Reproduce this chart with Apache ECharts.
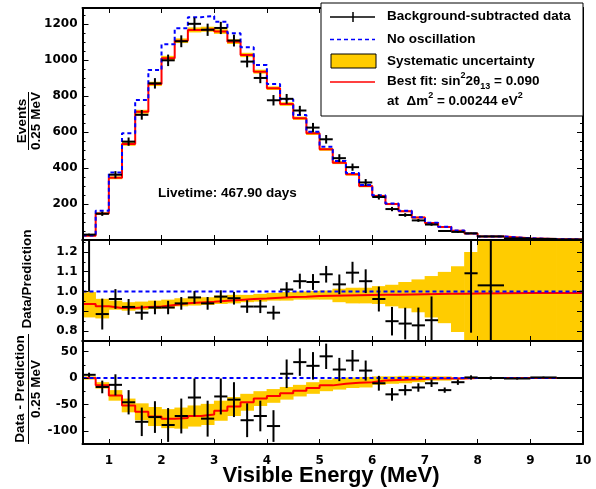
<!DOCTYPE html>
<html><head><meta charset="utf-8">
<script src="https://cdn.jsdelivr.net/npm/echarts@6/dist/echarts.min.js"></script>
<style>html,body{margin:0;padding:0;background:#fff}#c{width:596px;height:489px}</style>
</head><body><div id="c"></div>
<script>
// ---------- DATA ----------
const binEdges = [0.5,0.75,1,1.25,1.5,1.75,2,2.25,2.5,2.75,3,3.25,3.5,3.75,4,4.25,4.5,4.75,5,5.25,5.5,5.75,6,6.25,6.5,6.75,7,7.25,7.5,7.75,8,8.5,9,9.5,10];
// top panel: events / 0.25 MeV
const noOsc   = [25,163,376,593,779,945,1088,1177,1239,1246,1214,1150,1072,973,868,783,695,602,519,439,372,306,249,203,162,127,96,73,53,36,20,10,5,3];
const bestFit = [23,148,346,534,713,868,1011,1108,1168,1172,1159,1103,1029,936,844,756,677,593,504,430,365,300,245,200,160,125,95,72,52,36,20,10,5,3];
const topBandHalf = [2,5,8,10,11,12,13,13,14,14,13,13,12,11,10,10,9,9,8,8,7,7,6,6,5,5,4,4,3,3,2,2,1,1];
const dataEvents = [30,146,363,547,696,871,999,1105,1202,1169,1179,1109,992,901,777,785,720,625,560,455,405,320,239,172,139,109,86,50,45,37,20,9,6,3];
const dataEventsErr = [5,12,20,23,27,29,32,33,35,34,34,33,32,29,29,27,26,26,24,22,20,19,14,12,10,8,7,5,5,4,3,2,1.5,1];
// ratio panel
const ratioNoOsc = 1.0;
const ratioFit = [0.937,0.925,0.917,0.917,0.922,0.924,0.932,0.94,0.944,0.948,0.953,0.957,0.962,0.965,0.969,0.972,0.974,0.977,0.979,0.98,0.981,0.982,0.983,0.984,0.985,0.986,0.987,0.988,0.989,0.99,0.991,0.992,0.993,0.993];
const ratioBandLo = [0.869,0.864,0.908,0.903,0.908,0.912,0.915,0.925,0.929,0.932,0.937,0.94,0.946,0.949,0.954,0.954,0.959,0.959,0.959,0.946,0.94,0.94,0.937,0.925,0.915,0.895,0.869,0.84,0.796,0.7,0.5,0.5,0.5,0.5];
const ratioBandHi = [0.997,0.963,0.954,0.946,0.949,0.954,0.959,0.966,0.971,0.971,0.98,0.983,0.983,0.988,0.993,0.997,1.0,1.003,1.005,1.014,1.019,1.019,1.027,1.034,1.048,1.061,1.078,1.099,1.128,1.2,1.5,1.5,1.5,1.5];
const ratioData = [1.35,0.886,0.962,0.922,0.893,0.919,0.919,0.94,0.97,0.94,0.974,0.966,0.924,0.924,0.893,1.01,1.052,1.048,1.087,1.036,1.095,1.052,0.962,0.85,0.838,0.829,0.855,null,null,1.092,1.031,null,null,null];
const ratioErr  = [0.35,0.078,0.05,0.04,0.036,0.034,0.034,0.032,0.032,0.032,0.032,0.032,0.032,0.033,0.035,0.037,0.038,0.04,0.042,0.05,0.055,0.06,0.063,0.072,0.08,0.09,0.12,null,null,0.3,0.6,null,null,null];
// difference panel
const diffNoOsc = 0;
const diffFit = [0,-14,-33,-52,-64,-73,-77,-76,-72,-69,-62,-54,-46,-39,-34,-29,-24,-19,-14,-11,-9,-8,-5,-4,-3,-2,-1,-1,-1,0,0,0,0,0];
const diffBandHalf = [3,6,10,13,16,18,18,20,20,20,19,18,16,14,13,12,11,11,11,11,10,10,8,7,7,6,4,4,2,2,1,1,1,1];
const diffData = [6,-17,-13,-46,-83,-74,-89,-72,-37,-77,-35,-41,-80,-72,-91,8,30,23,41,16,33,14,-10,-31,-23,-18,-10,-23,-8,1,0,-1,1,0];
const diffErr  = [4,12,20,23,27,30,32,33,36,34,34,33,32,29,30,27,26,26,24,22,20,19,14,12,10,8,7,5,5,4,3,2,1.5,1];
// ticks
const xTicks = [1,2,3,4,5,6,7,8,9,10];
const topMajor = [0,200,400,600,800,1000,1200];
const topLabels = [200,400,600,800,1000,1200];
const topMinor = [50,100,150,250,300,350,450,500,550,650,700,750,850,900,950,1050,1100,1150,1250];
const ratioMajor = [0.8,0.9,1.0,1.1,1.2];
const ratioMinor = [0.75,0.85,0.95,1.05,1.15,1.25];
const diffMajor = [-100,-50,0,50];
const diffMinor = [-125,-75,-25,25];

// ---------- CHART ----------
const chart = echarts.init(document.getElementById('c'));
const L = 82.5, W = 500.5;
const TICKFONT = {color:'#000', fontFamily:'DejaVu Sans', fontWeight:'bold', fontSize:12};
const TXT = "'Liberation Sans', Arial, sans-serif";

function xAxes(gi, showLabels){
  const base = {type:'value', gridIndex:gi, min:0.5, max:10, z:10, splitLine:{show:false},
    axisLine:{show:true, onZero:false, lineStyle:{color:'#000', width:2}},
    axisTick:{show:true, inside:true, length:5, customValues:xTicks, lineStyle:{color:'#000', width:1}}};
  return [
    Object.assign({}, base, {position:'bottom', axisLabel:Object.assign({show:showLabels, customValues:xTicks, margin:11}, TICKFONT)}),
    Object.assign({}, base, {position:'top', axisLabel:{show:false}})
  ];
}
function yAxes(gi, min, max, major, labels, minor, fmt){
  const base = {type:'value', gridIndex:gi, min, max, z:10, splitLine:{show:false},
    axisLine:{show:true, onZero:false, lineStyle:{color:'#000', width:2}}};
  const majT = {show:true, inside:true, length:6, customValues:major, lineStyle:{color:'#000', width:1}};
  const minT = {show:true, inside:true, length:3, customValues:minor, lineStyle:{color:'#000', width:1}};
  return [
    Object.assign({}, base, {position:'left', axisTick:majT, axisLabel:Object.assign({show:true, customValues:labels, formatter:fmt, margin:5}, TICKFONT)}),
    Object.assign({}, base, {position:'left', axisLine:{show:false}, axisTick:minT, axisLabel:{show:false}}),
    Object.assign({}, base, {position:'right', axisTick:majT, axisLabel:{show:false}}),
    Object.assign({}, base, {position:'right', axisLine:{show:false}, axisTick:minT, axisLabel:{show:false}})
  ];
}
function stepData(vals){
  const d = vals.map((v,i)=>[binEdges[i], v]);
  d.push([binEdges[binEdges.length-1], vals[vals.length-1]]);
  return d;
}
function constVals(c){ return binEdges.slice(1).map(()=>c); }
function stepLine(gi, vals, color, dashed, z){
  return {type:'line', xAxisIndex:2*gi, yAxisIndex:4*gi, step:'end', data:stepData(vals),
    symbol:'none', silent:true, clip:true, z:z,
    lineStyle:{color:color, width:2, type: dashed ? [4,3] : 'solid'}};
}
function bandSeries(gi, lo, hi){
  const items = lo.map((l,i)=>[binEdges[i], binEdges[i+1], l, hi[i]]);
  return {type:'custom', xAxisIndex:2*gi, yAxisIndex:4*gi, clip:true, silent:true, z:2, data:items,
    encode:{x:[0,1], y:[2,3]},
    renderItem(params, api){
      const p1 = api.coord([api.value(0), api.value(3)]);
      const p2 = api.coord([api.value(1), api.value(2)]);
      return {type:'rect', shape:{x:p1[0]-0.3, y:p1[1], width:p2[0]-p1[0]+0.6, height:p2[1]-p1[1]},
        style:{fill:'#ffcc00'}};
    }};
}
function dataSeries(gi, vals, errs){
  const items = [];
  vals.forEach((v,i)=>{ if(v!==null) items.push([binEdges[i], binEdges[i+1], v, errs[i]]); });
  return {type:'custom', xAxisIndex:2*gi, yAxisIndex:4*gi, clip:true, silent:true, z:6, data:items,
    encode:{x:[0,1], y:2},
    renderItem(params, api){
      const x0=api.value(0), x1=api.value(1), v=api.value(2), e=api.value(3), xc=(x0+x1)/2;
      const a=api.coord([x0,v]), b=api.coord([x1,v]), c=api.coord([xc,v+e]), d=api.coord([xc,v-e]);
      return {type:'group', children:[
        {type:'line', shape:{x1:a[0],y1:a[1],x2:b[0],y2:b[1]}, style:{stroke:'#000', lineWidth:2}},
        {type:'line', shape:{x1:c[0],y1:c[1],x2:d[0],y2:d[1]}, style:{stroke:'#000', lineWidth:2}}
      ]};
    }};
}

const topLo = bestFit.map((v,i)=>v-topBandHalf[i]);
const topHi = bestFit.map((v,i)=>v+topBandHalf[i]);
const diffLo = diffFit.map((v,i)=>v-diffBandHalf[i]);
const diffHi = diffFit.map((v,i)=>v+diffBandHalf[i]);

const option = {
  animation:false,
  backgroundColor:'#fff',
  grid:[
    {left:L, top:8, width:W, height:232},
    {left:L, top:240, width:W, height:101},
    {left:L, top:341, width:W, height:103}
  ],
  xAxis:[].concat(xAxes(0,false), xAxes(1,false), xAxes(2,true)),
  yAxis:[].concat(
    yAxes(0, 0, 1290, topMajor, topLabels, topMinor, v=>String(v)),
    yAxes(1, 0.75, 1.26, ratioMajor, ratioMajor, ratioMinor, v=>Number(v).toFixed(1)),
    yAxes(2, -125, 70, diffMajor, diffMajor, diffMinor, v=>String(v))
  ),
  series:[
    bandSeries(0, topLo, topHi),
    stepLine(0, bestFit, '#ff0000', false, 3),
    stepLine(0, noOsc, '#0000ff', true, 4),
    dataSeries(0, dataEvents, dataEventsErr),

    bandSeries(1, ratioBandLo, ratioBandHi),
    stepLine(1, ratioFit, '#ff0000', false, 3),
    stepLine(1, constVals(ratioNoOsc), '#0000ff', true, 4),
    dataSeries(1, ratioData, ratioErr),

    bandSeries(2, diffLo, diffHi),
    stepLine(2, diffFit, '#ff0000', false, 3),
    stepLine(2, constVals(diffNoOsc), '#0000ff', true, 4),
    dataSeries(2, diffData, diffErr)
  ],
  graphic:[
    // legend
    {type:'rect', z:100, shape:{x:321, y:3, width:262, height:113}, style:{fill:'#fff', stroke:'#000', lineWidth:1}},
    {type:'line', z:101, shape:{x1:330,y1:17,x2:375,y2:17}, style:{stroke:'#000', lineWidth:1.5}},
    {type:'line', z:101, shape:{x1:353,y1:12,x2:353,y2:22}, style:{stroke:'#000', lineWidth:1.5}},
    {type:'line', z:101, shape:{x1:330,y1:39.5,x2:375,y2:39.5}, style:{stroke:'#0000ff', lineWidth:1.5, lineDash:[4,3]}},
    {type:'rect', z:101, shape:{x:331, y:54, width:45, height:14}, style:{fill:'#ffcc00', stroke:'#000', lineWidth:1}},
    {type:'line', z:101, shape:{x1:330,y1:82,x2:375,y2:82}, style:{stroke:'#ff0000', lineWidth:1.5}},
    {type:'text', z:101, x:387, y:16.5, style:{text:'Background-subtracted data', font:"bold 13.5px "+TXT, fill:'#000', verticalAlign:'middle'}},
    {type:'text', z:101, x:387, y:39.5, style:{text:'No oscillation', font:"bold 13.5px "+TXT, fill:'#000', verticalAlign:'middle'}},
    {type:'text', z:101, x:387, y:61, style:{text:'Systematic uncertainty', font:"bold 13.5px "+TXT, fill:'#000', verticalAlign:'middle'}},
    {type:'text', z:101, x:387, y:81.5, style:{
      text:'{n|Best fit: sin}{sup|2}{n|2θ}{sub|13}{n| = 0.090}', verticalAlign:'middle', fill:'#000',
      rich:{n:{fontFamily:TXT, fontWeight:'bold', fontSize:13.5, lineHeight:20, verticalAlign:'middle'},
            sup:{fontFamily:TXT, fontWeight:'bold', fontSize:9, lineHeight:10, verticalAlign:'top'},
            sub:{fontFamily:TXT, fontWeight:'bold', fontSize:9, lineHeight:10, verticalAlign:'bottom'}}}},
    {type:'text', z:101, x:387, y:101.5, style:{
      text:'{n|at  Δm}{sup|2}{n| = 0.00244 eV}{sup|2}', verticalAlign:'middle', fill:'#000',
      rich:{n:{fontFamily:TXT, fontWeight:'bold', fontSize:13.5, lineHeight:20, verticalAlign:'middle'},
            sup:{fontFamily:TXT, fontWeight:'bold', fontSize:9, lineHeight:10, verticalAlign:'top'}}}},
    // livetime
    {type:'text', z:101, x:158, y:193, style:{text:'Livetime: 467.90 days', font:"bold 13.5px "+TXT, fill:'#000', verticalAlign:'middle'}},
    // y titles
    {type:'text', z:101, x:22, y:121, rotation:Math.PI/2, style:{text:'Events', font:"bold 13.5px "+TXT, fill:'#000', align:'center', verticalAlign:'middle'}},
    {type:'line', z:101, shape:{x1:28.5,y1:92,x2:28.5,y2:150}, style:{stroke:'#000', lineWidth:1}},
    {type:'text', z:101, x:36, y:121, rotation:Math.PI/2, style:{text:'0.25 MeV', font:"bold 13.5px "+TXT, fill:'#000', align:'center', verticalAlign:'middle'}},
    {type:'text', z:101, x:27.5, y:279, rotation:Math.PI/2, style:{text:'Data/Prediction', font:"bold 13.5px "+TXT, fill:'#000', align:'center', verticalAlign:'middle'}},
    {type:'text', z:101, x:20.5, y:389, rotation:Math.PI/2, style:{text:'Data - Prediction', font:"bold 13.5px "+TXT, fill:'#000', align:'center', verticalAlign:'middle'}},
    {type:'line', z:101, shape:{x1:28.5,y1:334,x2:28.5,y2:444}, style:{stroke:'#000', lineWidth:1}},
    {type:'text', z:101, x:36, y:389, rotation:Math.PI/2, style:{text:'0.25 MeV', font:"bold 13.5px "+TXT, fill:'#000', align:'center', verticalAlign:'middle'}},
    // x title
    {type:'text', z:101, x:331, y:476, style:{text:'Visible Energy (MeV)', font:"bold 22px "+TXT, fill:'#000', align:'center', verticalAlign:'middle'}}
  ]
};
chart.setOption(option);
</script>
</body></html>
